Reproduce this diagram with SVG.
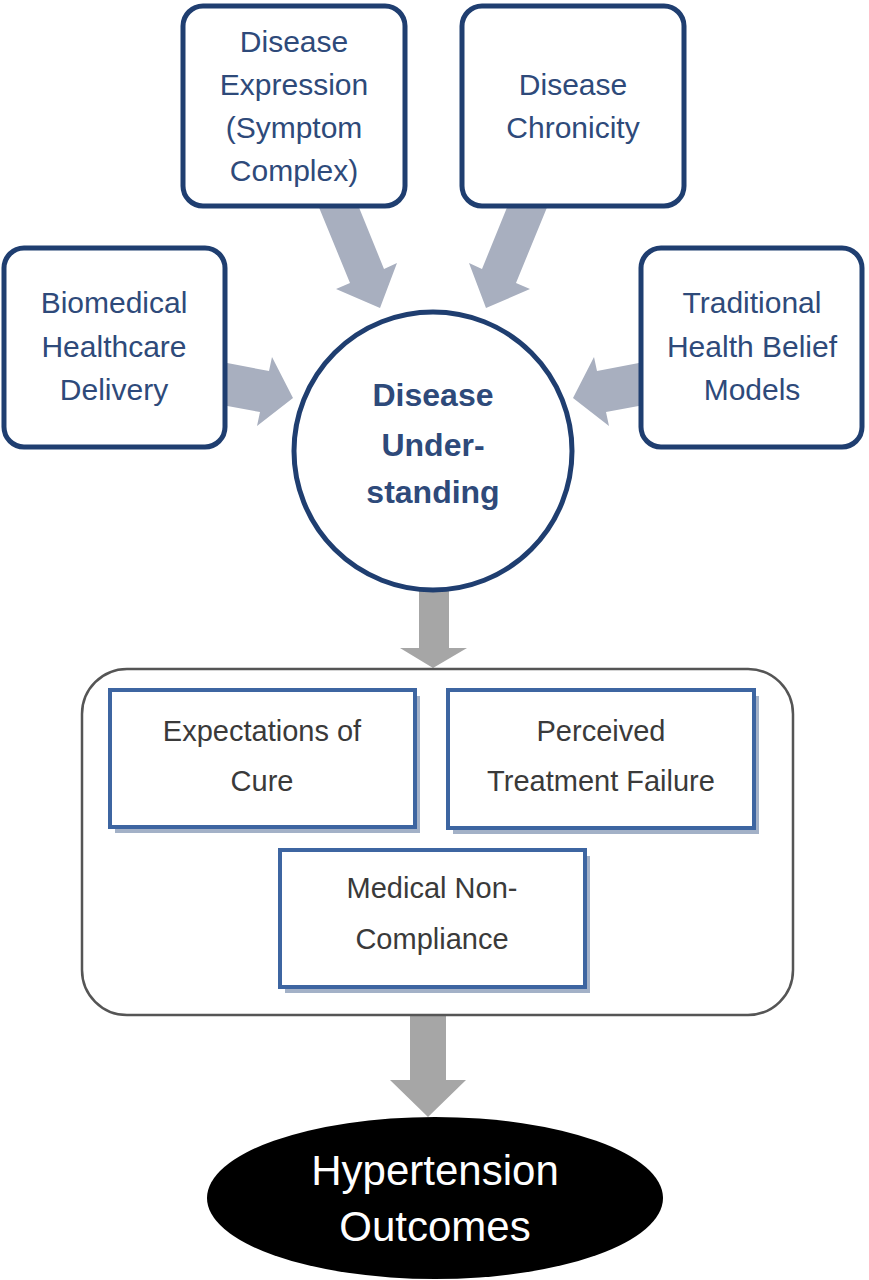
<svg xmlns="http://www.w3.org/2000/svg" width="869" height="1280" viewBox="0 0 869 1280">
<style>
.topbox{fill:#ffffff;stroke:#1f3e70;stroke-width:5}
.toptxt{font-family:"Liberation Sans",Arial,sans-serif;font-size:30px;fill:#2e4a7a;text-anchor:middle}
.ctxt{font-family:"Liberation Sans",Arial,sans-serif;font-size:32px;font-weight:bold;fill:#2e4a7a;text-anchor:middle}
.inbox{fill:#ffffff;stroke:#3d65a1;stroke-width:4}
.shadow{fill:#a3b1c7}
.intxt{font-family:"Liberation Sans",Arial,sans-serif;font-size:29px;fill:#3a3a3a;text-anchor:middle}
.bluearrow{fill:#a8afbf}
.grayarrow{fill:#a6a6a6}
.outtxt{font-family:"Liberation Sans",Arial,sans-serif;font-size:42px;fill:#ffffff;text-anchor:middle}
</style>
<rect width="869" height="1280" fill="#ffffff"/>
<g id="connectors">
<polygon class="bluearrow" points="318,205 358,205 384,269 397,263 380,308 336,289 350,283"/>
<polygon class="bluearrow" points="548,205 508,205 482,269 469,263 486,308 530,289 516,283"/>
<polygon class="bluearrow" points="222,362 269,371 272,357 293,398 257,426 260,412 222,405"/>
<polygon class="bluearrow" points="644,362 597,371 594,357 573,398 609,426 606,412 644,405"/>
<polygon class="grayarrow" points="419,583 449,583 449,648 467,648 433,668 400,648 419,648"/>
<polygon class="grayarrow" points="410,1016 446,1016 446,1080 466,1080 428,1117 390,1080 410,1080"/>
</g>
<g id="node-expression">
<rect class="topbox" x="183" y="6" width="222" height="200" rx="20"/>
<text class="toptxt" x="294" y="52">Disease</text>
<text class="toptxt" x="294" y="95">Expression</text>
<text class="toptxt" x="294" y="138">(Symptom</text>
<text class="toptxt" x="294" y="181">Complex)</text>
</g>
<g id="node-chronicity">
<rect class="topbox" x="462" y="6" width="222" height="200" rx="20"/>
<text class="toptxt" x="573" y="95">Disease</text>
<text class="toptxt" x="573" y="138">Chronicity</text>
</g>
<g id="node-biomedical">
<rect class="topbox" x="4" y="248" width="221" height="199" rx="20"/>
<text class="toptxt" x="114" y="313">Biomedical</text>
<text class="toptxt" x="114" y="357">Healthcare</text>
<text class="toptxt" x="114" y="400">Delivery</text>
</g>
<g id="node-traditional">
<rect class="topbox" x="641" y="248" width="221" height="199" rx="20"/>
<text class="toptxt" x="752" y="313">Traditional</text>
<text class="toptxt" x="752" y="357">Health Belief</text>
<text class="toptxt" x="752" y="400">Models</text>
</g>
<g id="node-understanding">
<circle cx="433" cy="451" r="139" fill="#ffffff" stroke="#1f3e70" stroke-width="5"/>
<text class="ctxt" x="433" y="406">Disease</text>
<text class="ctxt" x="433" y="456">Under-</text>
<text class="ctxt" x="433" y="503">standing</text>
</g>
<g id="group-container">
<rect x="82" y="669" width="711" height="346" rx="45" fill="#ffffff" stroke="#555555" stroke-width="2.5"/>
</g>
<g id="node-expectations">
<rect class="shadow" x="115" y="696" width="305" height="137"/>
<rect class="inbox" x="110" y="690" width="305" height="137"/>
<text class="intxt" x="262" y="741">Expectations of</text>
<text class="intxt" x="262" y="791">Cure</text>
</g>
<g id="node-perceived">
<rect class="shadow" x="453" y="696" width="306" height="138"/>
<rect class="inbox" x="448" y="690" width="306" height="138"/>
<text class="intxt" x="601" y="741">Perceived</text>
<text class="intxt" x="601" y="791">Treatment Failure</text>
</g>
<g id="node-noncompliance">
<rect class="shadow" x="285" y="856" width="305" height="137"/>
<rect class="inbox" x="280" y="850" width="305" height="137"/>
<text class="intxt" x="432" y="898">Medical Non-</text>
<text class="intxt" x="432" y="949">Compliance</text>
</g>
<g id="node-outcomes">
<ellipse cx="435" cy="1198" rx="228" ry="81" fill="#000000"/>
<text class="outtxt" x="435" y="1185">Hypertension</text>
<text class="outtxt" x="435" y="1241">Outcomes</text>
</g>
</svg>
